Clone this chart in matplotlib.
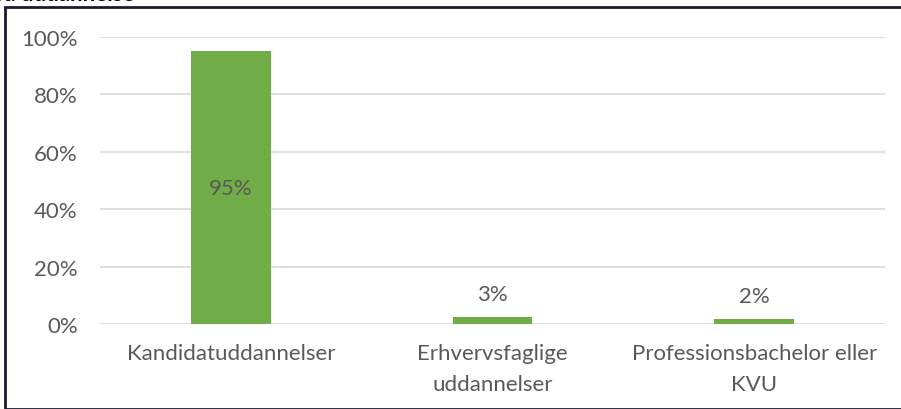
import matplotlib
matplotlib.use("Agg")
import matplotlib.pyplot as plt
from matplotlib.patches import Rectangle
from matplotlib.ticker import PercentFormatter

categories = ["Kandidatuddannelser", "Erhvervsfaglige\nuddannelser", "Professionsbachelor eller\nKVU"]
values = [95.0, 2.6, 1.8]
labels = ["95%", "3%", "2%"]
yticks = [0, 20, 40, 60, 80, 100]

plt.rcParams['font.family'] = ['Lato', 'DejaVu Sans']
TXT = '#595959'
GREEN = '#70AD47'
FS = 16

fig = plt.figure(figsize=(9.01, 4.10), dpi=100)
W, H = 901, 410
ax = fig.add_axes([100 / W, 1 - 325 / H, 785 / W, 287 / H])
x = range(len(categories))
bars = ax.bar(x, values, width=0.305, color=GREEN, zorder=3)
ax.set_xlim(-0.5, len(categories) - 0.5)
ax.set_ylim(0, 100)
ax.set_yticks(yticks)
ax.yaxis.set_major_formatter(PercentFormatter(decimals=0))
ax.set_xticks(list(x))
ax.set_xticklabels(categories)
for t in ax.get_xticklabels():
    t.set_linespacing(1.65)
ax.tick_params(axis='both', length=0, labelsize=FS, colors=TXT)
ax.tick_params(axis='y', pad=16)
ax.tick_params(axis='x', pad=14)
ax.grid(axis='y', color='#D9D9D9', linewidth=1.2, zorder=0)
for s in ax.spines.values():
    s.set_visible(False)

for b, v, l in zip(bars, values, labels):
    cx = b.get_x() + b.get_width() / 2
    if v > 50:
        ax.text(cx, v / 2, l, ha='center', va='center', fontsize=FS, color=TXT, zorder=4)
    else:
        ax.text(cx, v + 4.5, l, ha='center', va='bottom', fontsize=FS, color=TXT, zorder=4)

fig.patches.append(Rectangle((5 / W, 0), 1, 1 - 8 / H, transform=fig.transFigure,
                             fill=False, edgecolor='#1A1A33', linewidth=2.0))
fig.text(135 / W, 1 - 1 / H, "Ansættelser fordelt på uddannelse", fontsize=16, fontweight='bold',
         color='black', va='baseline', ha='right')

fig.savefig("out.png", dpi=100)
